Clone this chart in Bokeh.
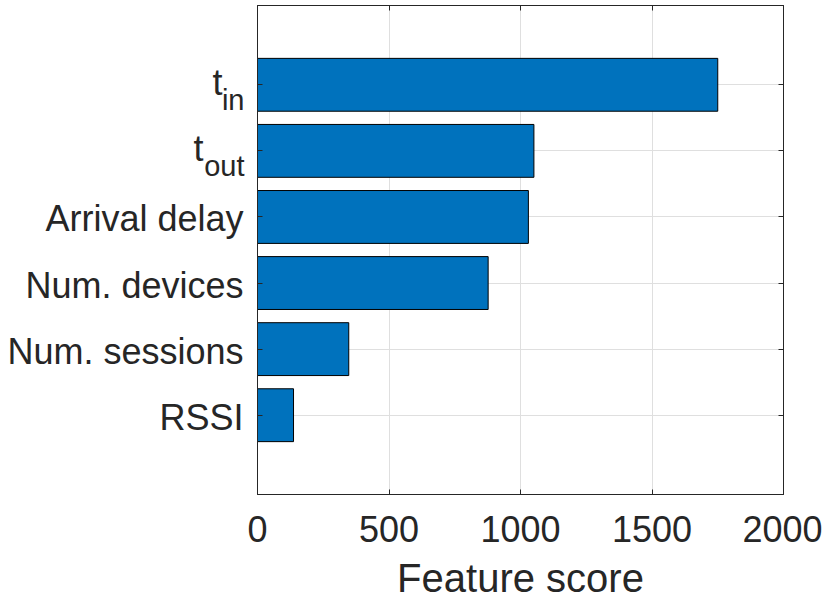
from bokeh.plotting import figure
from bokeh.models import Range1d, FixedTicker, LinearAxis
from bokeh.layouts import row
from bokeh.embed import file_html
from bokeh.resources import INLINE

# ---- data ----
features = ["RSSI", "Num. sessions", "Num. devices", "Arrival delay", "t_out", "t_in"]
scores = [137, 347, 877, 1030, 1051, 1750]
positions = [1, 2, 3, 4, 5, 6]
x_ticks = [0, 500, 1000, 1500, 2000]

FONT = "Liberation Sans"
TXT = "#262626"
LEFT_W = 245

y_range = Range1d(-0.2, 7.2)

# ---- main plot ----
p = figure(width=577, height=602, x_range=Range1d(0, 2000), y_range=y_range,
           output_backend="svg", toolbar_location=None,
           min_border_left=257 - LEFT_W, min_border_right=39, min_border_top=5, min_border_bottom=108)

p.hbar(y=positions, right=scores, left=0, height=0.8,
       fill_color="#0072BD", line_color="black", line_width=1)

p.outline_line_color = TXT
p.outline_line_width = 1
p.background_fill_color = "white"
p.border_fill_color = "white"

p.xgrid.ticker = FixedTicker(ticks=x_ticks)
p.ygrid.ticker = FixedTicker(ticks=positions)
for g in (p.xgrid, p.ygrid):
    g.grid_line_color = "#dfdfdf"
    g.grid_line_width = 1

xa = p.xaxis[0]
xa.ticker = FixedTicker(ticks=x_ticks)
xa.axis_label = "Feature score"
xa.major_label_text_font = FONT
xa.major_label_text_font_size = "36px"
xa.major_label_text_color = TXT
xa.major_label_text_line_height = 1.0
xa.axis_label_text_font = FONT
xa.axis_label_text_font_size = "40px"
xa.axis_label_text_color = TXT
xa.axis_label_text_font_style = "normal"
xa.axis_label_text_line_height = 1.0
xa.major_label_standoff = 21
xa.axis_label_standoff = 11

ya = p.yaxis[0]
ya.ticker = FixedTicker(ticks=positions)

top = LinearAxis(ticker=FixedTicker(ticks=x_ticks))
right = LinearAxis(ticker=FixedTicker(ticks=positions))
p.add_layout(top, "above")
p.add_layout(right, "right")

for ax in (xa, ya, top, right):
    ax.axis_line_color = TXT
    ax.major_tick_line_color = TXT
    ax.major_tick_in = 5
    ax.major_tick_out = 0
    ax.minor_tick_line_color = None
for ax in (ya, top, right):
    ax.major_label_text_font_size = "1px"
    ax.major_label_text_alpha = 0
    ax.major_label_standoff = 0

# ---- left label panel (shares the y scale) ----
lab = figure(width=LEFT_W, height=602, x_range=Range1d(0, LEFT_W), y_range=y_range,
             output_backend="svg", toolbar_location=None,
             x_axis_type=None, y_axis_type=None,
             min_border_left=0, min_border_right=0, min_border_top=5, min_border_bottom=108)
lab.outline_line_color = None
lab.xgrid.visible = False
lab.ygrid.visible = False
lab.background_fill_color = "white"
lab.border_fill_color = "white"

plain_y = [pos for pos, f in zip(positions, features) if not f.startswith("t_")]
plain_t = [f for f in features if not f.startswith("t_")]
sub_y = [pos for pos, f in zip(positions, features) if f.startswith("t_")]
sub_t = [f[2:] for f in features if f.startswith("t_")]
main_t = [f[0] for f in features if f.startswith("t_")]

lab.text(x=[243] * len(plain_y), y=plain_y, text=plain_t, y_offset=2,
         text_align="right", text_baseline="middle",
         text_font={"value": FONT}, text_font_size="36px", text_color=TXT)

sub_w = {"in": 21, "out": 40}
lab.text(x=[243 - sub_w[s] for s in sub_t], y=sub_y, text=main_t, y_offset=-2,
         text_align="right", text_baseline="alphabetic",
         text_font={"value": FONT}, text_font_size="36px", text_color=TXT)
lab.text(x=[244] * len(sub_y), y=sub_y, text=sub_t, y_offset=15,
         text_align="right", text_baseline="alphabetic",
         text_font={"value": FONT}, text_font_size="29px", text_color=TXT)

layout = row(lab, p)
open("out.html", "w").write(file_html(layout, INLINE))
